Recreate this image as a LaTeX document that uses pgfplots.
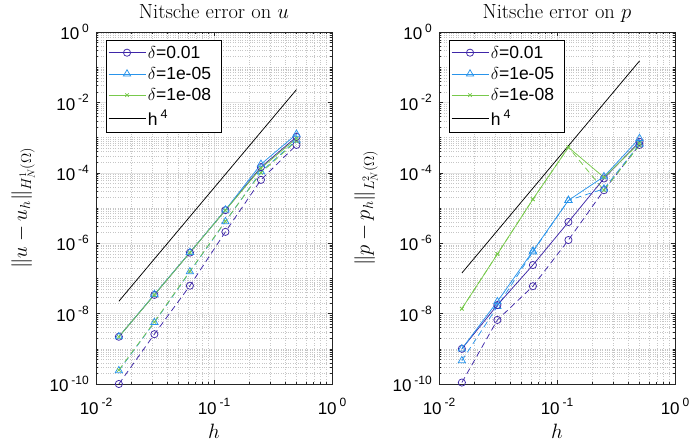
\documentclass[border=0pt]{standalone}
\usepackage{fontspec}
\newfontfamily\hel{Liberation Sans}
\usepackage{pgfplots}
\pgfplotsset{compat=1.18}
\definecolor{c1}{rgb}{0.2422,0.1504,0.6603}
\definecolor{c2}{rgb}{0.16,0.58,0.92}
\definecolor{c3}{rgb}{0.47,0.79,0.30}
\newcommand\lab{\fontsize{20.5}{22}\selectfont}
\tikzset{
  s1/.style={c1, line width=0.75pt, mark=o, mark size=3.6pt, mark options={solid}},
  s2/.style={c2, line width=0.75pt, mark=triangle, mark size=4.2pt, mark options={solid}},
  s3/.style={c3, line width=0.75pt, mark=x, mark size=2.5pt, mark options={solid}},
  dsh/.style={dash pattern=on 6pt off 4pt},
}
\pgfplotsset{
  every axis/.append style={
    xmode=log, ymode=log,
    scale only axis, width=236pt, height=352pt,
    xmin=0.01, xmax=1, ymin=1e-10, ymax=1,
    xtick={0.01,0.1,1}, ytick={1e-10,1e-8,1e-6,1e-4,1e-2,1},
    minor xtick={0.02,0.03,0.04,0.05,0.06,0.07,0.08,0.09,0.2,0.3,0.4,0.5,0.6,0.7,0.8,0.9},
    minor ytick={2e-10,3e-10,4e-10,5e-10,6e-10,7e-10,8e-10,9e-10,
      1e-9,2e-9,3e-9,4e-9,5e-9,6e-9,7e-9,8e-9,9e-9,
      2e-8,3e-8,4e-8,5e-8,6e-8,7e-8,8e-8,9e-8,
      1e-7,2e-7,3e-7,4e-7,5e-7,6e-7,7e-7,8e-7,9e-7,
      2e-6,3e-6,4e-6,5e-6,6e-6,7e-6,8e-6,9e-6,
      1e-5,2e-5,3e-5,4e-5,5e-5,6e-5,7e-5,8e-5,9e-5,
      2e-4,3e-4,4e-4,5e-4,6e-4,7e-4,8e-4,9e-4,
      1e-3,2e-3,3e-3,4e-3,5e-3,6e-3,7e-3,8e-3,9e-3,
      2e-2,3e-2,4e-2,5e-2,6e-2,7e-2,8e-2,9e-2,
      1e-1,2e-1,3e-1,4e-1,5e-1,6e-1,7e-1,8e-1,9e-1},
    grid=both,
    major grid style={gray!22, line width=0.5pt},
    minor grid style={gray!45, dotted, line width=0.4pt},
    tick align=inside,
    major tick length=4.5pt, minor tick length=2.5pt,
    axis line style={black!85, line width=0.6pt},
    every tick/.style={black!85, line width=0.5pt},
    clip=false,
    xticklabel={\hel 10\,\raisebox{0.8ex}{\fontsize{12}{13}\selectfont\pgfmathparse{int(round(\tick/ln(10)))}\pgfmathresult}},
    yticklabel={\hel 10\,\raisebox{0.8ex}{\fontsize{12}{13}\selectfont\pgfmathparse{int(round(\tick/ln(10)))}\pgfmathresult}},
    xticklabel style={font=\hel\fontsize{17}{19}\selectfont, anchor=base, yshift=-30pt, inner sep=0pt},
    yticklabel style={font=\hel\fontsize{17}{19}\selectfont, anchor=east, xshift=-7pt, inner sep=0pt},
    title style={at={(0.5,1)}, anchor=base, inner sep=0pt, yshift=7.5pt},
    xlabel style={at={(0.5,0)}, anchor=base, yshift=-54pt},
    ylabel style={at={(axis description cs:-0.309,0.5)}, anchor=center},
    xlabel={\lab $h$},
    legend style={at={(axis description cs:0.042,0.977)}, anchor=north west, draw=black, line width=0.5pt,
      font=\hel\fontsize{17.5}{19}\selectfont, inner xsep=2pt, inner ysep=3.5pt, row sep=3.5pt, cells={anchor=west}},
  },
}
\begin{document}
\begin{tikzpicture}[x=1pt,y=1pt]
\path[use as bounding box] (-96,-62) rectangle (595,384);
\begin{axis}[at={(0pt,0pt)}, anchor=south west,
  title={\lab Nitsche error on $u$}, ylabel={\lab $\|u-u_h\|_{H^1_N(\Omega)}$},
  legend image code/.code={\draw[mark repeat=2,mark phase=2,#1] plot coordinates {(0pt,0pt)(18.5pt,0pt)(37pt,0pt)};}]
\addplot[s1, dsh, forget plot] coordinates {(0.015625,1.0e-10)(0.03125,2.6e-9)(0.0625,6.2e-8)(0.125,2.1e-6)(0.25,6.3e-5)(0.5,6.2e-4)};
\addplot[s2, dsh, forget plot] coordinates {(0.015625,2.4e-10)(0.03125,5.6e-9)(0.0625,1.55e-7)(0.125,4.1e-6)(0.25,1.07e-4)(0.5,8.5e-4)};
\addplot[s3, dsh, forget plot] coordinates {(0.015625,2.5e-10)(0.03125,5.8e-9)(0.0625,1.6e-7)(0.125,4.2e-6)(0.25,1.0e-4)(0.5,8.0e-4)};
\addplot[s1] coordinates {(0.015625,2.2e-9)(0.03125,3.4e-8)(0.0625,5.4e-7)(0.125,8.7e-6)(0.25,1.45e-4)(0.5,1.05e-3)};
\addlegendentry{$\delta$=0.01}
\addplot[s2] coordinates {(0.015625,2.2e-9)(0.03125,3.5e-8)(0.0625,5.5e-7)(0.125,8.8e-6)(0.25,1.75e-4)(0.5,1.25e-3)};
\addlegendentry{$\delta$=1e-05\hspace*{6pt}}
\addplot[s3] coordinates {(0.015625,2.2e-9)(0.03125,3.4e-8)(0.0625,5.4e-7)(0.125,8.6e-6)(0.25,1.35e-4)(0.5,9.5e-4)};
\addlegendentry{$\delta$=1e-08}
\addplot[black, line width=0.75pt] coordinates {(0.015625,2.24e-8)(0.5,0.0231)};
\addlegendentry{h\,\raisebox{0.8ex}{\fontsize{12.5}{13}\selectfont 4}}
\end{axis}
\begin{axis}[at={(343pt,0pt)}, anchor=south west,
  title={\lab Nitsche error on $p$}, ylabel={\lab $\|p-p_h\|_{L^2_N(\Omega)}$},
  legend image code/.code={\draw[mark repeat=2,mark phase=2,#1] plot coordinates {(0pt,0pt)(18.5pt,0pt)(37pt,0pt)};}]
\addplot[s1, dsh, forget plot] coordinates {(0.015625,1.1e-10)(0.03125,6.6e-9)(0.0625,6.0e-8)(0.125,1.23e-6)(0.25,3.2e-5)(0.5,6.2e-4)};
\addplot[s2, dsh, forget plot] coordinates {(0.015625,4.6e-10)(0.03125,1.6e-8)(0.0625,5.7e-7)(0.125,1.65e-5)(0.25,3.5e-5)(0.5,6.5e-4)};
\addplot[s3, dsh, forget plot] coordinates {(0.015625,1.38e-8)(0.03125,4.9e-7)(0.0625,1.77e-5)(0.125,5.3e-4)(0.25,3.2e-5)(0.5,6.0e-4)};
\addplot[s1] coordinates {(0.015625,1.0e-9)(0.03125,1.75e-8)(0.0625,2.4e-7)(0.125,4.0e-6)(0.25,6.9e-5)(0.5,7.6e-4)};
\addlegendentry{$\delta$=0.01}
\addplot[s2] coordinates {(0.015625,1.0e-9)(0.03125,2.2e-8)(0.0625,6.0e-7)(0.125,1.65e-5)(0.25,7.8e-5)(0.5,9.5e-4)};
\addlegendentry{$\delta$=1e-05\hspace*{6pt}}
\addplot[s3] coordinates {(0.015625,1.38e-8)(0.03125,4.9e-7)(0.0625,1.77e-5)(0.125,5.3e-4)(0.25,7.4e-5)(0.5,7.0e-4)};
\addlegendentry{$\delta$=1e-08}
\addplot[black, line width=0.75pt] coordinates {(0.015625,1.42e-7)(0.5,0.15)};
\addlegendentry{h\,\raisebox{0.8ex}{\fontsize{12.5}{13}\selectfont 4}}
\end{axis}
\end{tikzpicture}
\end{document}
